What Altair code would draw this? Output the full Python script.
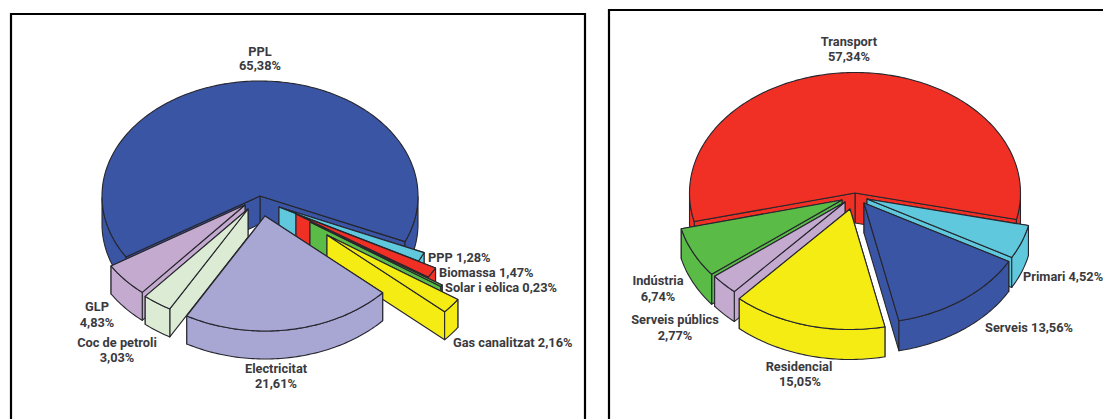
import math
import altair as alt
import pandas as pd

# --- values -----------------------------------------------------------------
primary_names = ["PPL", "PPP", "Biomassa", "Solar i eòlica", "Gas canalitzat",
                 "Electricitat", "Coc de petroli", "GLP"]
primary_values = [65.38, 1.28, 1.47, 0.23, 2.16, 21.61, 3.03, 4.83]
primary_colors = ["#3A55A4", "#5FC8DC", "#F03024", "#5ABB47", "#F5EC14",
                  "#A8A6D2", "#DCEBD3", "#C5AAD0"]

final_names = ["Transport", "Primari", "Serveis", "Residencial",
               "Serveis públics", "Indústria"]
final_values = [57.34, 4.52, 13.56, 15.05, 2.77, 6.74]
final_colors = ["#F03024", "#5FC8DC", "#3A55A4", "#F5EC14", "#C5AAD0", "#5ABB47"]

# --- pie layout (pixel-mapped x / y scales) ---------------------------------
primary_pie = dict(cx=260, cy=196, rx=158, ry=115, depth=28, start=238,
                   apex=[(260, 196), (279, 207), (296, 214), (310, 222),
                         (327, 235), (265, 216), (248, 209), (245, 205)],
                   draw=[0, 1, 2, 3, 4, 7, 6, 5])
final_pie = dict(cx=855, cy=193, rx=165.5, ry=120.5, depth=30, start=256.3,
                 apex=[(855, 193), (867, 199), (864, 203), (850, 209),
                       (845, 202), (842, 200)],
                 draw=[0, 1, 5, 4, 2, 3])

# label anchors: x, y of each text line
primary_label_pos = [[(260, 52), (260, 66)], [(428, 258)], [(439, 273)], [(445, 288)],
                     [(453, 343)], [(276, 369), (276, 384)], [(117, 343), (117, 358)],
                     [(97, 307), (97, 323)]]
final_label_pos = [[(849, 42), (849, 57)], [(1023, 277)], [(985, 328)],
                   [(799, 367), (800, 382)], [(675, 320), (675, 336)], [(658, 281), (658, 297)]]

frames = [dict(x=11, x2=585, y=14, y2=440), dict(x=609, x2=1140, y=10, y2=440)]


def fmt(v):
    return f"{v:.2f}".replace(".", ",") + "%"


def point(p, ax, ay, ang, drop=0):
    t = math.radians(ang)
    return ax + p["rx"] * math.sin(t), ay - p["ry"] * math.cos(t) + drop


def build(values, colors, p, prefix):
    """Turn shares into the faces of an extruded, exploded pie."""
    faces = []
    angles = []
    a = p["start"]
    for v in values:
        b = a + v * 3.6
        angles.append((a, b))
        a = b
    for i in p["draw"]:
        a, b = angles[i]
        ax, ay = p["apex"][i]
        d = p["depth"]
        col = colors[i]

        def wall(ang):
            ox, oy = point(p, ax, ay, ang)
            return [(ax, ay), (ox, oy), (ox, oy + d), (ax, ay + d)]

        mid = (a + b) / 2
        first, second = (a, b) if math.sin(math.radians(mid)) >= 0 else (b, a)
        faces.append((col, wall(first)))
        faces.append((col, wall(second)))
        # outer rim, only where it faces the viewer
        n = max(2, int(b - a))
        run = []
        runs = []
        for k in range(n + 1):
            ang = a + (b - a) * k / n
            if math.cos(math.radians(ang)) <= 0:
                run.append(ang)
            elif run:
                runs.append(run)
                run = []
        if run:
            runs.append(run)
        for run in runs:
            top = [point(p, ax, ay, q) for q in run]
            bot = [point(p, ax, ay, q, d) for q in reversed(run)]
            faces.append((col, top + bot))
        arc = [point(p, ax, ay, a + (b - a) * k / n) for k in range(n + 1)]
        faces.append((col, [(ax, ay)] + arc))
    rows = []
    for f, (col, pts) in enumerate(faces):
        for s, (x, y) in enumerate(pts):
            rows.append(dict(face=f"{prefix}{f:03d}", seq=s, x=x, y=y, col=col))
    return rows


rows = build(primary_values, primary_colors, primary_pie, "a") + \
    build(final_values, final_colors, final_pie, "b")
faces_df = pd.DataFrame(rows)

labels = []
for names, values, pos in [(primary_names, primary_values, primary_label_pos),
                           (final_names, final_values, final_label_pos)]:
    for n, v, lines in zip(names, values, pos):
        if len(lines) == 2:
            labels.append(dict(text=n, x=lines[0][0], y=lines[0][1], al="center"))
            labels.append(dict(text=fmt(v), x=lines[1][0], y=lines[1][1], al="center"))
        else:
            labels.append(dict(text=f"{n} {fmt(v)}", x=lines[0][0], y=lines[0][1], al="left"))
labels_df = pd.DataFrame(labels)

xs = alt.Scale(domain=[8, 1103], nice=False, zero=False)
ys = alt.Scale(domain=[419, 8], nice=False, zero=False)
X = alt.X("x:Q", scale=xs, axis=None)
Y = alt.Y("y:Q", scale=ys, axis=None)

frame_layer = alt.Chart(pd.DataFrame(frames)).mark_rect(
    fill="white", stroke="black", strokeWidth=2.2, clip=True
).encode(x=X, x2="x2:Q", y=Y, y2="y2:Q")

face_layer = alt.Chart(faces_df).mark_line(
    interpolate="linear-closed", stroke="#26262e", strokeWidth=1.1, strokeJoin="round", clip=True
).encode(
    x=X, y=Y,
    order=alt.Order("seq:Q"),
    detail="face:N",
    fill=alt.Fill("col:N", scale=None),
)


def text_layer(al):
    return alt.Chart(labels_df[labels_df.al == al]).mark_text(
        align=al, baseline="middle", font="Roboto",
        fontWeight="bold", fontSize=12.8, color="#3a3a3e", clip=True
    ).encode(x=X, y=Y, text="text:N")


chart = alt.layer(frame_layer, face_layer, text_layer("center"), text_layer("left")).properties(
    width=1095, height=411, padding=0, autosize=alt.AutoSizeParams(type="none"),
    background="white"
).configure_view(stroke=None)

chart.save("out.html", embed_options={"renderer": "svg", "actions": False})
